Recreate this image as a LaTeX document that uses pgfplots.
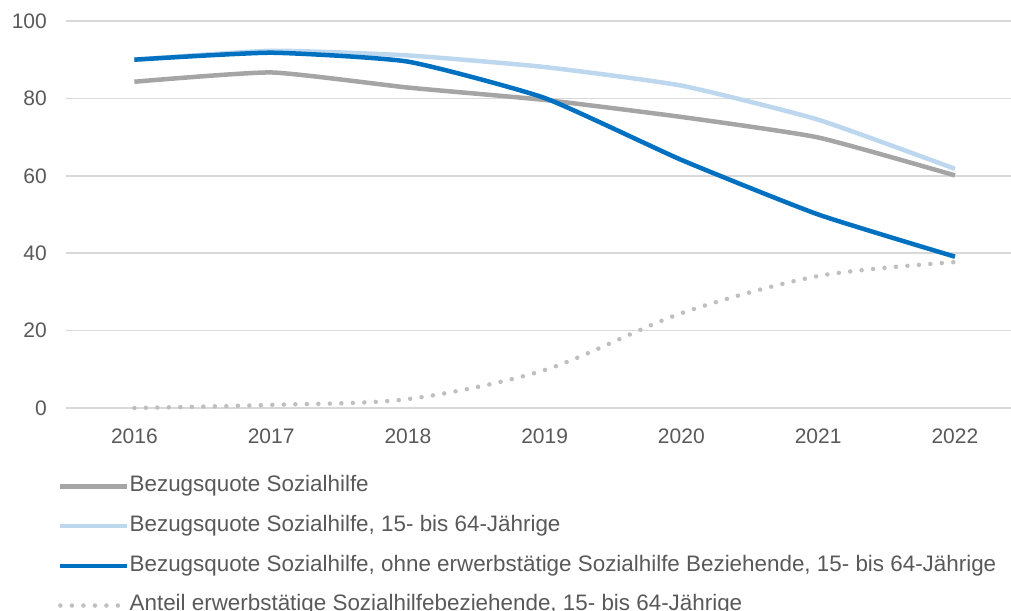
\documentclass[border=0pt]{standalone}
\usepackage{pgfplots}
\pgfplotsset{compat=1.18}
\usepackage{fontspec}
\setmainfont{Liberation Sans}
\definecolor{txt}{HTML}{595959}
\definecolor{gridc}{HTML}{D9D9D9}
\definecolor{cgray}{HTML}{A5A5A5}
\definecolor{clight}{HTML}{BDD7EE}
\definecolor{cdark}{HTML}{0070C0}
\definecolor{cdot}{HTML}{BFBFBF}
\begin{document}
\begin{tikzpicture}[x=1bp,y=1bp]
\useasboundingbox (0,0) rectangle (1011,611);
\begin{axis}[
  at={(66bp,203bp)}, anchor=south west,
  scale only axis, width=945bp, height=387bp,
  xmin=2015.5, xmax=2022.41, ymin=0, ymax=100,
  xtick={2016,...,2022}, ytick={0,20,...,100},
  /pgf/number format/assume math mode=true,
  xticklabel={\pgfmathprintnumber[1000 sep={}]{\tick}},
  ymajorgrids, major grid style={gridc, line width=1.5bp},
  axis line style={draw=none}, major tick length=0pt,
  clip=false,
  tick label style={font=\fontsize{21bp}{25bp}\selectfont, text=txt, inner sep=0pt},
  xticklabel style={anchor=north, text height=15bp, yshift=-20bp},
  yticklabel style={anchor=east, xshift=-19bp},
  legend style={at={(-0.0085,-0.177)}, anchor=north west, draw=none, fill=none,
    font=\fontsize{22.4bp}{26bp}\selectfont, text=txt, inner sep=0pt, row sep=20.2bp,
    nodes={inner sep=0pt, text height=15bp, text depth=4.5bp}},
  legend cell align=left,
  legend image code/.code={\draw[#1] (0bp,0bp) -- (67bp,0bp);},
  every axis legend/.append style={/tikz/every even column/.append style={column sep=6bp}},
]
\addplot[cgray, line width=4.5bp, smooth, tension=0.3] coordinates {
 (2016,84.3) (2017,86.7) (2018,82.8) (2019,79.6) (2020,75.2) (2021,69.9) (2022,60.1)};
\addlegendentry{Bezugsquote Sozialhilfe}
\addplot[clight, line width=4.5bp, smooth, tension=0.3] coordinates {
 (2016,90.0) (2017,92.3) (2018,91.1) (2019,88.1) (2020,83.3) (2021,74.5) (2022,61.8)};
\addlegendentry{Bezugsquote Sozialhilfe, 15- bis 64-Jährige}
\addplot[cdark, line width=4.5bp, smooth, tension=0.3] coordinates {
 (2016,90.0) (2017,91.8) (2018,89.5) (2019,80.1) (2020,64.1) (2021,50.0) (2022,39.1)};
\addlegendentry{Bezugsquote Sozialhilfe, ohne erwerbstätige Sozialhilfe Beziehende, 15- bis 64-Jährige}
\addplot[cdot, line width=4.5bp, line cap=round, dash pattern=on 0bp off 11.5bp, smooth, tension=0.5] coordinates {
 (2016,0.0) (2017,0.8) (2018,2.3) (2019,9.8) (2020,24.5) (2021,34.1) (2022,37.7)};
\addlegendentry{Anteil erwerbstätige Sozialhilfebeziehende, 15- bis 64-Jährige}
\end{axis}
\end{tikzpicture}
\end{document}
